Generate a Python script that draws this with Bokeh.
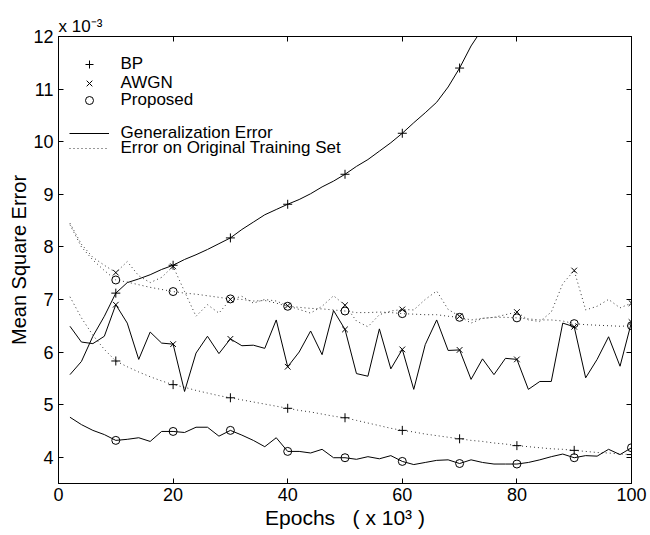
from bokeh.plotting import figure
from bokeh.models import LinearAxis, Legend, LegendItem, FixedTicker, Range1d
from bokeh.embed import file_html
from bokeh.resources import INLINE

# ---------------- data (values in units of 1e-3) ----------------
epochs = list(range(2, 101, 2))

bp_gen_epochs = list(range(2, 75, 2))
bp_gen = [5.57, 5.82, 6.30, 6.68, 7.12, 7.32, 7.39, 7.47, 7.57, 7.65,
          7.76, 7.85, 7.95, 8.06, 8.17, 8.33, 8.47, 8.61, 8.71, 8.81,
          8.90, 9.01, 9.14, 9.25, 9.38, 9.53, 9.66, 9.82, 9.98, 10.16,
          10.36, 10.55, 10.75, 11.04, 11.40, 11.82, 12.15]

bp_train = [7.05, 6.65, 6.32, 6.05, 5.83, 5.72, 5.62, 5.53, 5.45, 5.38,
            5.33, 5.27, 5.22, 5.17, 5.13, 5.09, 5.05, 5.01, 4.97, 4.93,
            4.89, 4.86, 4.82, 4.78, 4.75, 4.70, 4.65, 4.60, 4.55, 4.51,
            4.48, 4.44, 4.41, 4.38, 4.35, 4.32, 4.30, 4.27, 4.25, 4.22,
            4.20, 4.18, 4.16, 4.15, 4.13, 4.11, 4.09, 4.08, 4.06, 4.05]

awgn_gen = [6.49, 6.19, 6.16, 6.30, 6.90, 6.55, 5.86, 6.38, 6.17, 6.15,
            5.25, 5.98, 6.30, 5.97, 6.25, 6.12, 6.13, 6.07, 6.61, 5.72,
            6.00, 6.40, 5.95, 6.79, 6.43, 5.59, 5.54, 6.44, 5.68, 6.05,
            5.29, 6.14, 6.61, 6.03, 6.04, 5.48, 5.87, 5.57, 5.88, 5.86,
            5.29, 5.44, 5.44, 6.55, 6.48, 5.51, 5.86, 6.29, 5.73, 6.57]

awgn_train = [8.45, 8.05, 7.80, 7.65, 7.51, 7.72, 7.45, 7.32, 7.42, 7.63,
              7.15, 6.68, 6.90, 6.74, 7.00, 7.06, 6.93, 7.00, 6.97, 6.88,
              6.81, 6.74, 6.87, 7.07, 6.89, 6.59, 6.48, 6.71, 6.78, 6.81,
              6.80, 7.00, 7.16, 6.81, 6.68, 6.55, 6.64, 6.66, 6.71, 6.76,
              6.61, 6.58, 6.76, 7.30, 7.55, 6.80, 6.87, 7.00, 6.84, 6.93]

prop_gen = [4.76, 4.62, 4.51, 4.43, 4.32, 4.34, 4.37, 4.30, 4.49, 4.49,
            4.47, 4.57, 4.57, 4.40, 4.51, 4.42, 4.32, 4.20, 4.37, 4.11,
            4.11, 4.08, 4.15, 3.99, 3.99, 3.96, 4.01, 3.97, 4.03, 3.92,
            3.86, 3.90, 3.94, 3.95, 3.88, 3.95, 3.90, 3.87, 3.87, 3.87,
            3.90, 3.95, 4.01, 4.06, 3.99, 4.03, 4.02, 4.15, 4.05, 4.18]

prop_train = [8.42, 8.00, 7.75, 7.55, 7.37, 7.33, 7.28, 7.23, 7.19, 7.15,
              7.12, 7.10, 7.07, 7.04, 7.01, 7.00, 6.97, 6.98, 6.93, 6.87,
              6.85, 6.83, 6.82, 6.80, 6.78, 6.75, 6.75, 6.76, 6.75, 6.73,
              6.72, 6.71, 6.71, 6.68, 6.66, 6.61, 6.64, 6.66, 6.66, 6.65,
              6.63, 6.61, 6.61, 6.59, 6.54, 6.52, 6.51, 6.50, 6.49, 6.50]

x_ticks = [0, 20, 40, 60, 80, 100]
y_ticks = [4, 5, 6, 7, 8, 9, 10, 11, 12]
Y_MAX = 12


def marks(xs, ys):
    pts = [(e, v) for e, v in zip(xs, ys) if e % 10 == 0 and v <= Y_MAX]
    return [a for a, _ in pts], [b for _, b in pts]


FONT = "Liberation Sans"

p = figure(width=650, height=535, x_range=Range1d(0, 100), y_range=Range1d(3.5, 12),
           output_backend="svg", toolbar_location=None,
           min_border_left=58, min_border_right=19, min_border_top=36, min_border_bottom=52)
p.xgrid.visible = False
p.ygrid.visible = False
p.outline_line_color = "black"
p.background_fill_color = "white"
p.border_fill_color = "white"

# exponent note as the (left aligned) title
p.title.text = "x 10\u207b\u00b3"
p.title.align = "left"
p.title.offset = 0
p.title.standoff = 2
p.title.text_font = FONT
p.title.text_font_size = "17px"
p.title.text_font_style = "normal"
p.title.text_color = "black"


def style_axis(ax, ticks, show_labels=True):
    ax.ticker = FixedTicker(ticks=ticks)
    ax.major_tick_in = 5
    ax.major_tick_out = 0
    ax.minor_tick_in = 0
    ax.minor_tick_out = 0
    ax.axis_line_color = "black"
    ax.major_tick_line_color = "black"
    ax.major_label_text_font = FONT
    if show_labels:
        ax.major_label_text_color = "black"
        ax.major_label_text_font_size = "18px"
        ax.major_label_standoff = 4
    else:
        ax.major_label_text_color = None
        ax.major_label_text_font_size = "1px"
        ax.major_label_standoff = 0


style_axis(p.xaxis[0], x_ticks)
style_axis(p.yaxis[0], y_ticks)
p.yaxis[0].major_label_standoff = 5

p.yaxis[0].axis_label = "Mean Square Error"
p.yaxis[0].axis_label_text_font = FONT
p.yaxis[0].axis_label_text_font_size = "20px"
p.yaxis[0].axis_label_text_font_style = "normal"
p.yaxis[0].axis_label_text_color = "black"
p.yaxis[0].axis_label_standoff = 0

p.xaxis[0].axis_label = "Epochs\u00a0\u00a0\u00a0( x 10\u00b3 )"
p.xaxis[0].axis_label_text_font = FONT
p.xaxis[0].axis_label_text_font_size = "21px"
p.xaxis[0].axis_label_text_font_style = "normal"
p.xaxis[0].axis_label_text_color = "black"
p.xaxis[0].axis_label_standoff = 2

top = LinearAxis()
style_axis(top, x_ticks, show_labels=False)
p.add_layout(top, "above")
right = LinearAxis()
style_axis(right, y_ticks, show_labels=False)
p.add_layout(right, "right")

DOT = "1 3"
DOT_COLOR = "#333333"

# lines
r_bp_gen = p.line(bp_gen_epochs, bp_gen, line_color="black", line_width=1)
r_bp_tr = p.line(epochs, bp_train, line_color=DOT_COLOR, line_width=1, line_dash=DOT)
p.line(epochs, awgn_gen, line_color="black", line_width=1)
p.line(epochs, awgn_train, line_color=DOT_COLOR, line_width=1, line_dash=DOT)
p.line(epochs, prop_gen, line_color="black", line_width=1)
p.line(epochs, prop_train, line_color=DOT_COLOR, line_width=1, line_dash=DOT)

# markers
mx, my = marks(bp_gen_epochs, bp_gen)
r_bp_m = p.scatter(mx, my, marker="cross", size=9, line_color="black", line_width=1)
mx, my = marks(epochs, bp_train)
p.scatter(mx, my, marker="cross", size=9, line_color="black", line_width=1)
mx, my = marks(epochs, awgn_gen)
r_aw_m = p.scatter(mx, my, marker="x", size=8, line_color="black", line_width=1)
mx, my = marks(epochs, awgn_train)
p.scatter(mx, my, marker="x", size=8, line_color="black", line_width=1)
mx, my = marks(epochs, prop_gen)
r_pr_m = p.scatter(mx, my, marker="circle", size=8, line_color="black", fill_color=None, line_width=1)
mx, my = marks(epochs, prop_train)
p.scatter(mx, my, marker="circle", size=8, line_color="black", fill_color=None, line_width=1)

# legends (one per row, placed like the original)
legend_rows = [("BP", r_bp_m, 409), ("AWGN", r_aw_m, 390), ("Proposed", r_pr_m, 373),
               ("Generalization Error", r_bp_gen, 340),
               ("Error on Original Training Set", r_bp_tr, 325)]
for lab, rend, vy in legend_rows:
    leg = Legend(items=[LegendItem(label=lab, renderers=[rend])], location=(10.5, vy),
                 glyph_width=40, glyph_height=20, label_height=20, label_standoff=12,
                 padding=0, margin=0, border_line_color=None, background_fill_alpha=0,
                 label_text_font=FONT, label_text_font_size="17px", label_text_color="black")
    p.add_layout(leg)

open("out.html", "w").write(file_html(p, INLINE))
